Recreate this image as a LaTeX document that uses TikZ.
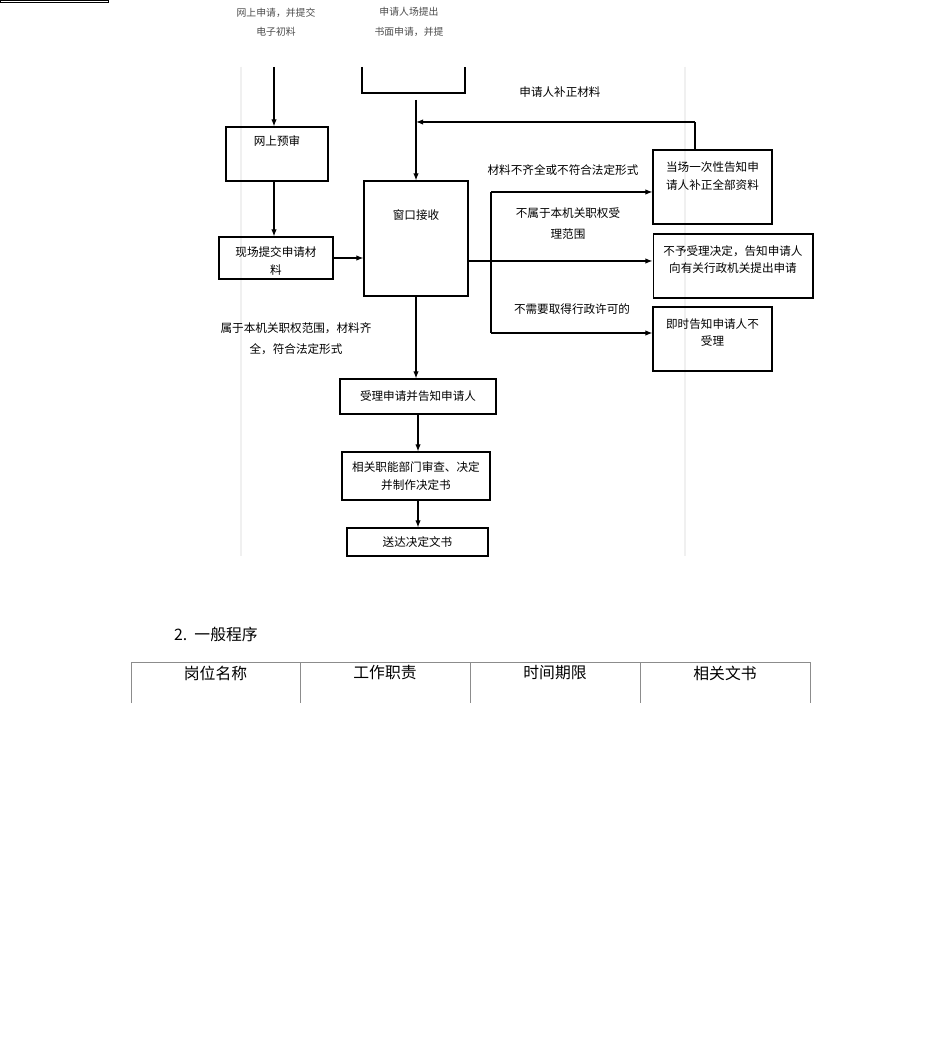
\documentclass[tikz,border=0pt]{standalone}
\usepackage{fontspec}
\setmainfont{Liberation Serif}
\newfontfamily\cjk{Noto Sans CJK SC}
\usetikzlibrary{arrows.meta}
\begin{document}
\begin{tikzpicture}[x=0.02cm,y=-0.02cm,
  box/.style={draw,line width=0.6pt,inner sep=0pt},
  lbl/.style={font=\cjk\fontsize{6.6}{8}\selectfont,align=center},
  top/.style={font=\cjk\fontsize{5.6}{11}\selectfont,text=black!70,align=center},
  hd/.style={font=\cjk\fontsize{9}{11}\selectfont},
  arr/.style={-{Latex[length=4pt,width=3pt]},line width=0.6pt},
  ln/.style={line width=0.6pt}]
\useasboundingbox (0,0) rectangle (950,1050);
\fill[white] (0,0) rectangle (950,1050);
\draw[black!6,line width=0.8pt] (241,67) -- (241,556) (685,67) -- (685,556);
% top texts
\node[top] (t1) at (276,22) {网上申请，并提交\\电子初料};
\node[top] (t2) at (409,22) {申请人场提出\\书面申请，并提};
% boxes
\node[box,minimum width=102\pgflinewidth,anchor=north west] at (0,0) {};
\draw[ln] (362,67) -- (362,93) -- (465,93) -- (465,67);
\coordinate (lt) at (274,67);
\coordinate (mt) at (416,100);
\node[box,minimum width=2.04cm,minimum height=1.08cm] (ys) at (277,154) {};
\node[lbl] at (277,141) {网上预审};
\node[box,minimum width=2.28cm,minimum height=0.84cm] (xc) at (276,258) {};
\node[lbl,align=center] at (276,261) {现场提交申请材\\[2pt]料};
\node[box,minimum width=2.08cm,minimum height=2.3cm] (ck) at (416,238.5) {};
\node[lbl] at (416,215) {窗口接收};
\node[box,minimum width=2.38cm,minimum height=1.48cm] (dc) at (712.5,187) {};
\node[lbl] at (712.5,176) {当场一次性告知申\\[2pt]请人补正全部资料};
\node[box,minimum width=3.2cm,minimum height=1.28cm] (by) at (733,266) {};
\node[lbl] at (733,259.5) {不予受理决定，告知申请人\\[2pt]向有关行政机关提出申请};
\node[box,minimum width=2.38cm,minimum height=1.28cm] (js) at (712.5,339) {};
\node[lbl] at (712.5,332.5) {即时告知申请人不\\[2pt]受理};
\node[box,minimum width=3.12cm,minimum height=0.7cm] (sl) at (418,396.5) {};
\node[lbl] at (418,396.5) {受理申请并告知申请人};
\node[box,minimum width=2.96cm,minimum height=0.96cm] (xg) at (416,476) {};
\node[lbl] at (416,476) {相关职能部门审查、决定\\[2pt]并制作决定书};
\node[box,minimum width=2.82cm,minimum height=0.56cm] (sd) at (417.5,542) {};
\node[lbl] at (417.5,542) {送达决定文书};
% connectors
\draw[arr] (lt) -- (ys.north -| lt);
\draw[arr] (ys.south -| lt) -- (xc.north -| lt);
\draw[arr] (xc.east) -- (xc.east -| ck.west);
\draw[arr] (mt) -- (ck.north -| mt);
\coordinate (fb) at (695,122);
\draw[ln] (dc.north -| fb) -- (fb);
\draw[arr] (fb) -- (416,122);
\coordinate (b1) at (491,192);
\coordinate (b3) at (491,333);
\draw[ln] (b1) -- (b3);
\draw[arr] (b1) -- (b1 -| dc.west);
\draw[arr] (ck.east |- 0,261) -- (by.west |- 0,261);
\draw[arr] (b3) -- (b3 -| js.west);
\draw[arr] (ck.south) -- (sl.north -| ck.south);
\draw[arr] (sl.south -| 418,0) -- (xg.north -| 418,0);
\draw[arr] (xg.south -| 418,0) -- (sd.north -| 418,0);
% labels
\node[lbl] at (560,92) {申请人补正材料};
\node[lbl] at (563,170) {材料不齐全或不符合法定形式};
\node[lbl] at (568,224) {不属于本机关职权受\\[4pt]理范围};
\node[lbl] at (572,309) {不需要取得行政许可的};
\node[lbl] at (296,338.5) {属于本机关职权范围，材料齐\\[4pt]全，符合法定形式};
% bottom section
\node[hd,anchor=west] (h) at (168,634) {2.\ \ 一般程序};
\draw[black!45,line width=0.5pt] (131,703) -- (131,662) -- (810,662) -- (810,703);
\draw[black!45,line width=0.5pt] (300,662) -- (300,703) (470,662) -- (470,703) (640,662) -- (640,703);
\node[hd] at (215.5,673) {岗位名称};
\node[hd] at (385,673) {工作职责};
\node[hd] at (555,673) {时间期限};
\node[hd] at (725,673) {相关文书};
\end{tikzpicture}
\end{document}
